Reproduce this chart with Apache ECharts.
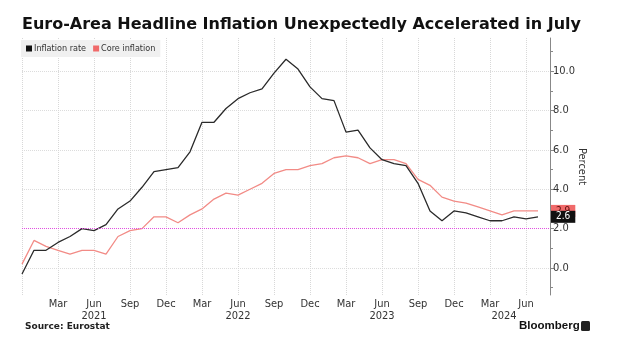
<!DOCTYPE html>
<html>
<head>
<meta charset="utf-8">
<script src="https://cdn.jsdelivr.net/npm/echarts@6/dist/echarts.min.js"></script>
<style>
html,body{margin:0;padding:0;background:#fff;}
#chart{width:620px;height:349px;}
</style>
</head>
<body>
<div id="chart"></div>
<script>
var categories = [
  "Dec 2020",
  "Jan 2021","Feb 2021","Mar 2021","Apr 2021","May 2021","Jun 2021","Jul 2021","Aug 2021","Sep 2021","Oct 2021","Nov 2021","Dec 2021",
  "Jan 2022","Feb 2022","Mar 2022","Apr 2022","May 2022","Jun 2022","Jul 2022","Aug 2022","Sep 2022","Oct 2022","Nov 2022","Dec 2022",
  "Jan 2023","Feb 2023","Mar 2023","Apr 2023","May 2023","Jun 2023","Jul 2023","Aug 2023","Sep 2023","Oct 2023","Nov 2023","Dec 2023",
  "Jan 2024","Feb 2024","Mar 2024","Apr 2024","May 2024","Jun 2024","Jul 2024","Aug 2024"
];
var inflationRate = [
  -0.3,
  0.9, 0.9, 1.3, 1.6, 2.0, 1.9, 2.2, 3.0, 3.4, 4.1, 4.9, 5.0,
  5.1, 5.9, 7.4, 7.4, 8.1, 8.6, 8.9, 9.1, 9.9, 10.6, 10.1, 9.2,
  8.6, 8.5, 6.9, 7.0, 6.1, 5.5, 5.3, 5.2, 4.3, 2.9, 2.4, 2.9,
  2.8, 2.6, 2.4, 2.4, 2.6, 2.5, 2.6
];
var coreInflation = [
  0.2,
  1.4, 1.1, 0.9, 0.7, 0.9, 0.9, 0.7, 1.6, 1.9, 2.0, 2.6, 2.6,
  2.3, 2.7, 3.0, 3.5, 3.8, 3.7, 4.0, 4.3, 4.8, 5.0, 5.0, 5.2,
  5.3, 5.6, 5.7, 5.6, 5.3, 5.5, 5.5, 5.3, 4.5, 4.2, 3.6, 3.4,
  3.3, 3.1, 2.9, 2.7, 2.9, 2.9, 2.9
];
var yTickValues = [0, 2, 4, 6, 8, 10];
var yMinorTickValues = [-1, 1, 3, 5, 7, 9, 11];
var targetLevel = 2;

var FONT = "'DejaVu Sans Condensed','Liberation Sans Narrow','DejaVu Sans',sans-serif";

var chart = echarts.init(document.getElementById('chart'), null, {renderer: 'canvas'});

function monthLabel(value, index) {
  var parts = value.split(' ');
  var lastYear = categories[categories.length - 1].split(' ')[1];
  if (parts[1] === lastYear) {
    // partial final year: year label sits under the first shown month of that year
    if (parts[0] === 'Mar') return 'Mar\n{yr|' + parts[1] + '}';
    return parts[0];
  }
  if (parts[0] === 'Jun') return parts[0] + '\n' + parts[1];
  return parts[0];
}

var option = {
  backgroundColor: '#ffffff',
  animation: false,
  title: {
    text: 'Euro-Area Headline Inflation Unexpectedly Accelerated in July',
    left: 17,
    top: 12,
    textStyle: {fontFamily: "'DejaVu Sans',sans-serif", fontWeight: 'bold', fontSize: 16, color: '#111'}
  },
  legend: {
    data: ['Inflation rate', 'Core inflation'],
    left: 21,
    top: 40,
    orient: 'horizontal',
    icon: 'rect',
    itemWidth: 6,
    itemHeight: 6,
    itemGap: 7,
    padding: [4, 5, 4, 5],
    backgroundColor: '#f0f0f0',
    textStyle: {fontFamily: FONT, fontSize: 9, color: '#333', padding: [0, 0, 0, -3]}
  },
  grid: {left: 22, right: 70, top: 38, bottom: 54, containLabel: false},
  xAxis: {
    type: 'category',
    data: categories,
    boundaryGap: false,
    axisLine: {show: false},
    axisTick: {show: false},
    axisLabel: {
      interval: function (index) { return index > 0 && index % 3 === 0; },
      formatter: monthLabel,
      fontFamily: FONT,
      fontSize: 11,
      color: '#333',
      lineHeight: 12,
      margin: 3,
      rich: {
        yr: {fontFamily: FONT, fontSize: 11, color: '#333', lineHeight: 12, padding: [0, 0, 0, 28]}
      }
    },
    splitLine: {
      show: true,
      interval: function (index) { return index % 3 === 0; },
      lineStyle: {color: '#d8d8d8', type: 'dotted', width: 1}
    }
  },
  yAxis: [
    {
      type: 'value',
      position: 'right',
      min: -1.37,
      max: 11.68,
      name: 'Percent',
      nameLocation: 'middle',
      nameRotate: -90,
      nameGap: 26,
      nameMoveOverlap: false,
      nameTextStyle: {fontFamily: FONT, fontSize: 11, color: '#333'},
      axisLine: {show: true, lineStyle: {color: '#888', width: 1}},
      axisTick: {show: true, inside: false, length: 4, customValues: yTickValues, lineStyle: {color: '#888'}},
      axisLabel: {
        customValues: yTickValues,
        formatter: function (v) { return v.toFixed(1); },
        fontFamily: FONT, fontSize: 11, color: '#333', margin: 3
      },
      splitLine: {show: true, lineStyle: {color: '#dcdcdc', type: 'dotted', width: 1}}
    },
    {
      type: 'value',
      position: 'right',
      min: -1.37,
      max: 11.68,
      axisLine: {show: false},
      axisTick: {show: true, inside: false, length: 3, customValues: yMinorTickValues, lineStyle: {color: '#888'}},
      axisLabel: {show: false},
      splitLine: {show: false}
    }
  ],
  series: [
    {
      name: 'Core inflation',
      type: 'line',
      data: coreInflation,
      yAxisIndex: 0,
      showSymbol: false,
      symbol: 'none',
      color: '#f06a6a',
      lineStyle: {color: '#f28b86', width: 1.3},
      endLabel: {
        show: true,
        distance: 13,
        formatter: function (p) { return Number(p.value).toFixed(1); },
        backgroundColor: '#f06a6a',
        color: '#5a0c0c',
        fontFamily: FONT,
        fontSize: 10,
        padding: [1, 5, 1, 5]
      },
      markLine: {
        silent: true,
        symbol: 'none',
        label: {show: false},
        lineStyle: {color: '#e050e0', type: 'dotted', width: 1},
        data: [{yAxis: targetLevel}]
      },
      z: 2
    },
    {
      name: 'Inflation rate',
      type: 'line',
      data: inflationRate,
      yAxisIndex: 0,
      showSymbol: false,
      symbol: 'none',
      color: '#111111',
      lineStyle: {color: '#2a2a2a', width: 1.3},
      endLabel: {
        show: true,
        distance: 13,
        formatter: function (p) { return Number(p.value).toFixed(1); },
        backgroundColor: '#111111',
        color: '#ffffff',
        fontFamily: FONT,
        fontSize: 10,
        padding: [1, 5, 1, 5]
      },
      z: 3
    }
  ],
  graphic: [
    {
      type: 'text',
      left: 25,
      top: 322,
      style: {text: 'Source: Eurostat', fontFamily: "'DejaVu Sans',sans-serif", fontWeight: 'bold', fontSize: 9, fill: '#222'}
    },
    {
      type: 'text',
      left: 519,
      top: 320,
      style: {text: 'Bloomberg', fontFamily: "'Liberation Sans',Arial,sans-serif", fontWeight: 'bold', fontSize: 11.5, fill: '#111'}
    },
    {
      type: 'rect',
      left: 581,
      top: 321,
      shape: {width: 9, height: 10, r: 1.5},
      style: {fill: '#222'}
    }
  ]
};
chart.setOption(option);
</script>
</body>
</html>
